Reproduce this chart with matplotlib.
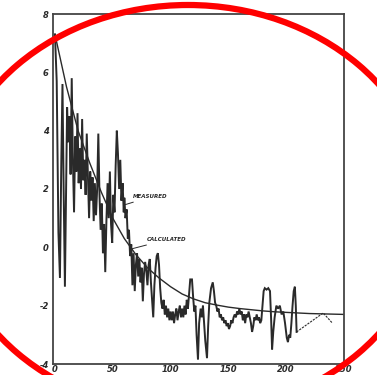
import matplotlib
matplotlib.use('Agg')
import matplotlib.pyplot as plt
from matplotlib.patches import Ellipse

# calculated curve
calc_x = [0, 10, 20, 30, 40, 50, 60, 70, 80, 90, 100, 110, 120, 130, 140, 150,
          160, 170, 180, 190, 200, 210, 220, 230, 240, 250]
calc_y = [7.3, 5.5, 4.0, 2.9, 1.9, 1.0, 0.3, -0.25, -0.7, -1.05, -1.35, -1.6, -1.77,
          -1.9, -1.98, -2.05, -2.1, -2.14, -2.18, -2.21, -2.23, -2.25, -2.27, -2.28, -2.29, -2.3]

# measured curve
meas_x = [0, 1.5, 3, 4.3, 5.5, 6.5, 7.5, 8.6, 9.5, 10.5, 11.5, 12.5, 13.5, 14.5, 15.5,
          16.5, 17.5, 18.5, 19.5, 20.5, 21.5, 22.5, 23.5, 24.5, 25.5, 26.5, 27.5, 28.5,
          29.5, 30.5, 31.5, 32.5, 33.5, 34.5, 35.5, 36.5, 37.5, 38.5, 39.5, 40.5, 41.5,
          42.5, 43.5, 44.5, 45.5, 46.5, 47.5, 48.5, 49.5, 50.5, 51.5, 52.5, 53.5, 54.5,
          55.5, 56.5, 57.5, 58.5, 59.5,
          60, 61, 62, 63, 64, 65, 66, 67, 68, 69, 70, 71, 72, 73, 74, 75, 76, 77, 78, 79,
          80, 81, 82, 83, 84, 85, 86, 87, 88, 89, 90, 91, 92, 93, 94, 95, 96, 97, 98, 99,
          100, 101, 102, 103, 104, 105, 106, 107, 108, 109, 110, 111, 112, 113, 114, 115,
          116, 117, 118.5, 119.5, 120.5, 121.5, 122.5, 123.7, 124.7, 126, 127, 128, 129,
          130, 131.5, 132.5, 133.5, 135, 136.5, 137.5, 138.5, 139.5, 140.5, 141.5, 142.5,
          143.5, 144.5, 145.5, 146.5, 147.5, 148.5, 149.5, 150.5, 151.5, 152.5, 153.5,
          154.5, 155.5, 156.5, 157.5, 158.5, 159.5, 160.5, 161.5, 162.5, 163.5, 164.5,
          165.5, 166.5, 167.5, 168.5, 169.5, 170.5, 171.5, 172.5, 173.5, 174.5, 175.5,
          176.5, 177.5, 178.5, 179.5, 180.5, 181.5, 183, 184.5, 186, 187, 187.8, 188.8,
          190, 191.5, 193, 194.5, 196, 197.5, 199, 200.5, 201.5, 202.5, 203.5, 204.5,
          205.5, 206.5, 207.5, 208.3, 209]
meas_y = [7.3, 5.7, 0.5, -1.05, 3.0, 5.6, 2.0, -1.35, 1.5, 4.8, 3.6, 4.5, 2.5, 5.8, 3.0,
          1.2, 3.8, 2.6, 4.6, 2.2, 3.4, 2.0, 4.4, 2.3, 3.0, 1.8, 3.9, 2.4,
          1.0, 2.6, 1.6, 2.4, 0.9, 2.2, 1.1, 2.0, 3.9, 1.8, 0.6, 1.5, -0.2,
          0.8, -0.85, 0.9, 2.2, 1.0, 2.6, 0.8, 0.15, 1.8, 1.2, 2.8, 4.0, 3.2,
          2.0, 3.0, 1.6, 2.2, 1.2,
          1.7, 1.0, 1.3, 0.3, 0.6, -0.3, 0.1, -1.3, -0.2, -1.5, -0.6, -0.2, -1.0, -0.4,
          -1.2, -0.7, -1.85, -0.9, -0.5, -0.8,
          -1.3, -0.6, -0.4, -1.2, -1.8, -2.4, -1.3, -0.7, -0.3, -0.2, -0.6, -1.4, -1.9,
          -2.1, -1.8, -2.3, -2.0, -2.4, -2.1, -2.5,
          -2.2, -2.5, -2.2, -2.6, -2.3, -2.1, -2.5, -2.2, -2.0, -2.4, -2.1, -2.4, -2.0,
          -2.3, -1.8, -2.1,
          -1.6, -1.1, -1.1, -1.7, -2.2, -2.0, -3.0, -3.85, -2.6, -2.1, -2.4, -2.0, -2.6,
          -3.2, -3.8, -2.7, -1.9, -1.4, -1.2, -1.5, -1.9, -2.0, -2.2, -2.1, -2.4,
          -2.3, -2.5, -2.4, -2.6, -2.5, -2.7, -2.6, -2.8, -2.7, -2.5, -2.6,
          -2.4, -2.3, -2.4, -2.2, -2.3, -2.1, -2.3, -2.2, -2.5, -2.3, -2.6,
          -2.3, -2.4, -2.2, -2.4, -2.6, -2.9, -2.7, -2.4, -2.5, -2.3, -2.5,
          -2.4, -2.6, -2.5, -2.0, -1.5, -1.4, -1.45, -1.4, -1.5, -2.5, -3.5, -2.9,
          -2.4, -2.0, -2.1, -2.0, -2.3, -2.2, -2.6, -3.1, -3.25, -3.0, -3.1, -2.6,
          -2.0, -1.5, -1.35, -2.0, -2.9]

# thin tail at the end of the measured record
tail_x = [209, 232, 240]
tail_y = [-2.9, -2.25, -2.6]

x_ticks = [0, 50, 100, 150, 200, 250]
y_ticks = [-4, -2, 0, 2, 4, 6, 8]

ink = '#2a2a2a'

fig = plt.figure(figsize=(3.77, 3.75), dpi=100)
ax = fig.add_axes([53/377, 11/375, 291/377, 350/375])

ax.plot(meas_x, meas_y, color=ink, lw=1.4, solid_joinstyle='miter')
ax.plot(tail_x, tail_y, color=ink, lw=0.8, ls=(0, (2, 1)))
ax.plot(calc_x, calc_y, color=ink, lw=1.0)

ax.annotate('MEASURED', xy=(60.5, 1.46), xytext=(67.5, 1.73), fontsize=4,
            fontweight='bold', fontstyle='italic', color=ink, va='center',
            arrowprops=dict(arrowstyle='-', color=ink, lw=0.7, shrinkA=0, shrinkB=0))
ax.annotate('CALCULATED', xy=(66.6, -0.05), xytext=(79.5, 0.26), fontsize=4,
            fontweight='bold', fontstyle='italic', color=ink, va='center',
            arrowprops=dict(arrowstyle='-', color=ink, lw=0.7, shrinkA=0, shrinkB=0))

ax.set_xlim(-1.7, 250)
ax.set_ylim(-4, 8)
ax.set_xticks(x_ticks)
ax.set_yticks(y_ticks)
ax.set_xticklabels([str(t) for t in x_ticks], fontstyle='italic', fontweight='bold')
ax.set_yticklabels([str(t) for t in y_ticks], fontstyle='italic', fontweight='bold')
ax.tick_params(length=0, labelsize=6, colors=ink)
ax.tick_params(axis='y', pad=3)
ax.tick_params(axis='x', pad=0.8)
for sp in ax.spines.values():
    sp.set_color('#444444')
    sp.set_linewidth(1.3)

# red ring drawn over the scan
ring = Ellipse((188/377, (375-209)/375), 2*241/377, 2*204/375, transform=fig.transFigure,
               fill=False, ec='#ff0000', lw=4.5, zorder=10, clip_on=False)
fig.patches.append(ring)

plt.savefig('out.png', dpi=100)
plt.close()
